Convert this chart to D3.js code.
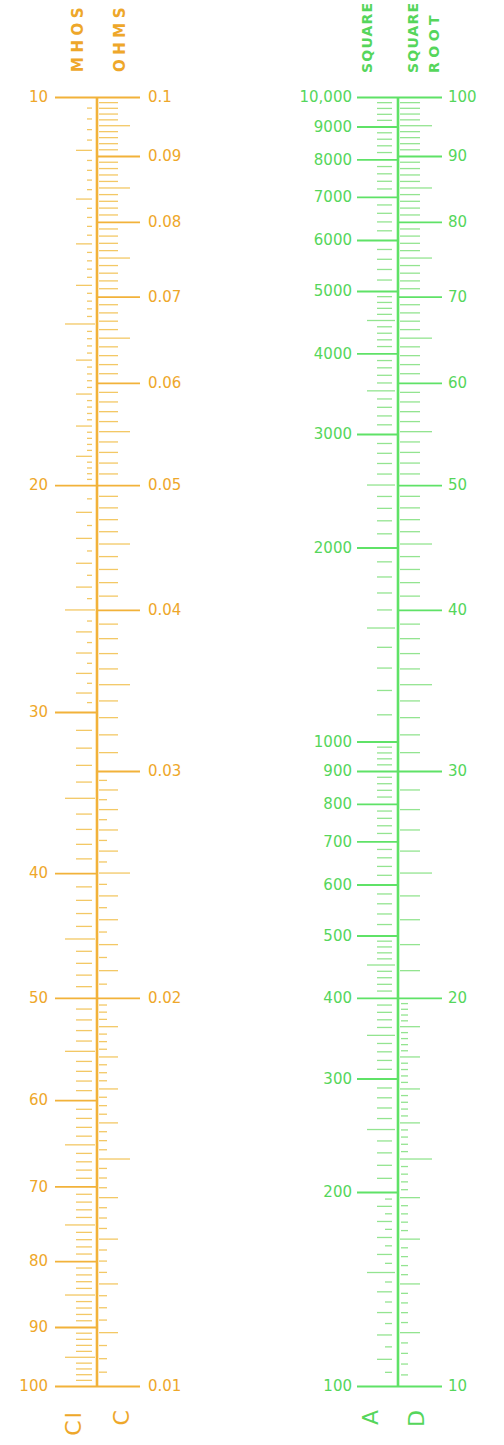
<!DOCTYPE html>
<html><head><meta charset="utf-8">
<script src="https://cdn.jsdelivr.net/npm/d3@7"></script>
<style>
html,body{margin:0;padding:0;background:#fff;}
svg{display:block;}
text{font-family:"DejaVu Sans",sans-serif;}
</style></head>
<body>
<svg id="c" width="504" height="1445"></svg>
<script>
// ---- labelled values ----
const mhosLabels = [10,20,30,40,50,60,70,80,90,100];
const ohmsLabels = [0.1,0.09,0.08,0.07,0.06,0.05,0.04,0.03,0.02,0.01];
const squareLabels = [100,200,300,400,500,600,700,800,900,1000,2000,3000,4000,5000,6000,7000,8000,9000,10000];
const rootLabels = [10,20,30,40,50,60,70,80,90,100];
// ---- graduation segments: [from, to, step, midEvery, longEvery] ----
const mhosGrad = [[10,20,0.2,1,5],[20,30,0.5,1,5],[30,100,1,1,5]];
const ohmsGrad = [[0.05,0.1,0.001,0.001,0.005],[0.03,0.05,0.001,0.001,0.005],[0.02,0.03,0.0005,0.001,0.005],[0.01,0.02,0.00025,0.001,0.005]];
const squareGrad = [[100,200,5,10,50],[200,500,10,10,50],[500,1000,20,20,100],[1000,5000,100,100,500],[5000,10000,200,200,1000]];
const rootGrad = [[10,20,0.2,1,5],[20,100,1,1,5]];
const titles = {mhos:"MHOS", ohms:"OHMS", square:"SQUARE", root1:"SQUARE", root2:"ROOT"};
const bottoms = {ci:"CI", c:"C", a:"A", d:"D"};

const ORANGE_T = "#eea72a", ORANGE_L = "#f2b23a", ORANGE_K = "#f3c865";
const GREEN_T = "#55d65b", GREEN_L = "#5fe267", GREEN_K = "#93e490";

const svg = d3.select("#c");
const yTop = 97, yBot = 1386;
const mhos = d3.scaleLog().domain([10,100]).range([yTop,yBot]);
const ohms = d3.scaleLog().domain([0.1,0.01]).range([yTop,yBot]);
const square = d3.scaleLog().domain([100,10000]).range([yBot,yTop]);
const root = d3.scaleLog().domain([10,100]).range([yBot,yTop]);

const xO = 97, xG = 398;

function mult(v, m){ const r = v/m; return Math.abs(r-Math.round(r)) < 1e-6; }
function grads(spec, labels){
  const out = [];
  spec.forEach(([a,b,s,mid,lng])=>{
    const n = Math.round((b-a)/s);
    for(let i=0;i<=n;i++){
      const v = a + i*s;
      if(labels.some(l=>Math.abs(l-v) < s*1e-3)) continue;
      if(out.some(o=>Math.abs(o.v-v) < s*1e-3)) continue;
      const lvl = mult(v,lng) ? 2 : (mult(v,mid) ? 1 : 0);
      out.push({v,lvl});
    }
  });
  return out;
}

function minorTicks(scale, spec, labels, xs, color, w){
  svg.append("g").selectAll("line").data(grads(spec, labels)).join("line")
    .attr("x1", d=>xs[d.lvl][0]).attr("x2", d=>xs[d.lvl][1])
    .attr("y1", d=>scale(d.v)).attr("y2", d=>scale(d.v))
    .attr("stroke", color).attr("stroke-width", w);
}

// orange minor ticks
minorTicks(mhos, mhosGrad, mhosLabels, [[87,92],[76,92],[65,95]], ORANGE_K, 1.3);
minorTicks(ohms, ohmsGrad, ohmsLabels, [[99,107],[99,118],[99,130]], ORANGE_K, 1.3);
// green minor ticks
minorTicks(square, squareGrad, squareLabels, [[385,392],[377,392],[367,395]], GREEN_K, 1.3);
minorTicks(root, rootGrad, rootLabels, [[401,408],[400,420],[400,432]], GREEN_K, 1.3);

function styleAxis(g, lineColor, textColor){
  g.select(".domain").remove();
  g.selectAll(".tick line").attr("stroke", lineColor).attr("stroke-width", 1.8);
  g.selectAll(".tick text").attr("fill", textColor).attr("font-size", 15)
   .attr("font-family", "'DejaVu Sans',sans-serif");
}
const fmtOhm = d => String(+d.toFixed(3));
const fmtSq = d => d >= 10000 ? d3.format(",")(d) : String(d);

svg.append("g").attr("transform",`translate(${xO},0)`)
  .call(d3.axisLeft(mhos).tickValues(mhosLabels).tickSize(42).tickPadding(7).tickFormat(d3.format("d")))
  .call(g=>styleAxis(g, ORANGE_L, ORANGE_T));
svg.append("g").attr("transform",`translate(${xO},0)`)
  .call(d3.axisRight(ohms).tickValues(ohmsLabels).tickSize(43).tickPadding(8).tickFormat(fmtOhm))
  .call(g=>styleAxis(g, ORANGE_L, ORANGE_T));
svg.append("g").attr("transform",`translate(${xG},0)`)
  .call(d3.axisLeft(square).tickValues(squareLabels).tickSize(41).tickPadding(5).tickFormat(fmtSq))
  .call(g=>styleAxis(g, GREEN_L, GREEN_T));
svg.append("g").attr("transform",`translate(${xG},0)`)
  .call(d3.axisRight(root).tickValues(rootLabels).tickSize(44).tickPadding(6).tickFormat(d3.format("d")))
  .call(g=>styleAxis(g, GREEN_L, GREEN_T));

// main vertical lines
svg.append("line").attr("x1",xO).attr("x2",xO).attr("y1",mhos(10)).attr("y2",mhos(100))
  .attr("stroke",ORANGE_L).attr("stroke-width",2.6);
svg.append("line").attr("x1",xG).attr("x2",xG).attr("y1",square(10000)).attr("y2",square(100))
  .attr("stroke",GREEN_L).attr("stroke-width",2.6);

// titles (rotated)
function vtext(x, y, txt, color, size, weight, anchor, ls){
  svg.append("text").attr("transform",`translate(${x},${y}) rotate(-90)`)
    .attr("text-anchor",anchor).attr("dominant-baseline","central")
    .attr("font-size",size).attr("font-weight",weight)
    .attr("letter-spacing",ls).attr("fill",color).text(txt);
}
vtext(78, 72, titles.mhos, ORANGE_T, 15, "bold", "start", 4.5);
vtext(120, 72, titles.ohms, ORANGE_T, 15, "bold", "start", 4.5);
vtext(367, 73, titles.square, GREEN_T, 14, "bold", "start", 1.2);
vtext(413, 73, titles.root1, GREEN_T, 14, "bold", "start", 1.2);
vtext(434, 73, titles.root2, GREEN_T, 14, "bold", "start", 4.5);

vtext(73, 1410, bottoms.ci, ORANGE_T, 22, "normal", "end", 2);
vtext(121, 1410, bottoms.c, ORANGE_T, 22, "normal", "end", 0);
vtext(370, 1410, bottoms.a, GREEN_T, 22, "normal", "end", 0);
vtext(416, 1410, bottoms.d, GREEN_T, 22, "normal", "end", 0);
</script>
</body></html>
